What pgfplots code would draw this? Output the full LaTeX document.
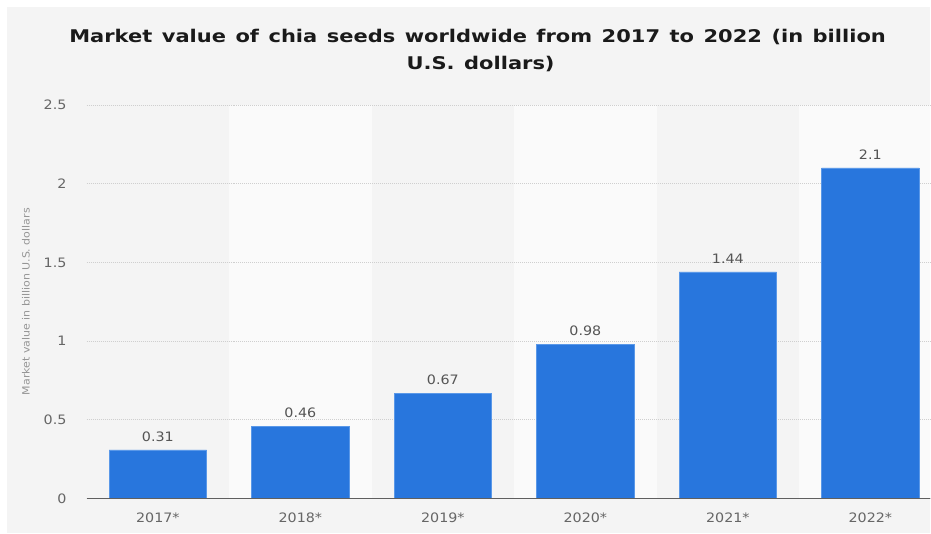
\documentclass[border=0pt]{standalone}
\usepackage{fontspec}
\setmainfont{DejaVu Sans}[FakeStretch=1.1]
\newfontfamily\titlefont{DejaVu Sans}[FakeStretch=1.2, WordSpace=1.3]
\usepackage{pgfplots}
\pgfplotsset{compat=1.18}
\definecolor{panel}{HTML}{F4F4F4}
\definecolor{band}{HTML}{FAFAFA}
\definecolor{barblue}{HTML}{2876DD}
\definecolor{baredge}{HTML}{5A98E8}
\definecolor{ticktext}{HTML}{666666}
\definecolor{valtext}{HTML}{555555}
\definecolor{gridc}{HTML}{CFCFCF}
\definecolor{axisc}{HTML}{5F5F5F}
\definecolor{titlec}{HTML}{1A1A1A}
\definecolor{ylab}{HTML}{959595}
\begin{document}
\begin{tikzpicture}[x=1pt,y=1pt]
\fill[white] (0,0) rectangle (931,534);
\fill[panel] (7,0.7) rectangle (931,527);
% alternating column bands behind the plot area
\fill[band] (229.3,35) rectangle (371.9,429);
\fill[band] (514.5,35) rectangle (657.1,429);
\fill[band] (799.8,35) rectangle (931,429);
\node[anchor=base, inner sep=0pt, font=\titlefont\bfseries\fontsize{17.5}{20}\selectfont, text=titlec] at (478,491.3) {Market value of chia seeds worldwide from 2017 to 2022 (in billion};
\node[anchor=base, inner sep=0pt, font=\titlefont\bfseries\fontsize{17.5}{20}\selectfont, text=titlec] at (481,464) {U.S. dollars)};
\node[rotate=90, inner sep=0pt, font=\fontsize{10}{12}\selectfont, text=ylab] at (26,232) {Market value in billion U.S. dollars};
\begin{axis}[
  at={(86.7pt,35pt)}, anchor=south west,
  scale only axis, width=844.3pt, height=394pt,
  xmin=-0.5, xmax=5.42, ymin=0, ymax=2.5,
  axis line style={draw=none},
  major tick length=0pt,
  xtick={0,1,2,3,4,5},
  xticklabels={2017*,2018*,2019*,2020*,2021*,2022*},
  ytick={0,0.5,1,1.5,2,2.5},
  yticklabels={0,0.5,1,1.5,2,2.5},
  ymajorgrids,
  grid style={gridc, line width=0.8pt, dash pattern=on 0.8pt off 1.2pt},
  ticklabel style={font=\fontsize{13}{15}\selectfont, text=ticktext, inner sep=0pt},
  yticklabel style={xshift=-20pt},
  xticklabel style={yshift=-14pt},
  clip=false,
]
\addplot[ybar, bar width=97.5pt, fill=barblue, draw=baredge, line width=0.5pt,
  nodes near coords, point meta=explicit symbolic,
  every node near coord/.append style={inner sep=0pt, yshift=8pt, font=\fontsize{13}{15}\selectfont, text=valtext}]
  coordinates {(0,0.31) [0.31] (1,0.46) [0.46] (2,0.67) [0.67] (3,0.98) [0.98] (4,1.44) [1.44] (5,2.1) [2.1]};
\draw[axisc, line width=1.6pt] (axis cs:-0.5,0) -- (axis cs:5.42,0);
\end{axis}
\end{tikzpicture}
\end{document}
